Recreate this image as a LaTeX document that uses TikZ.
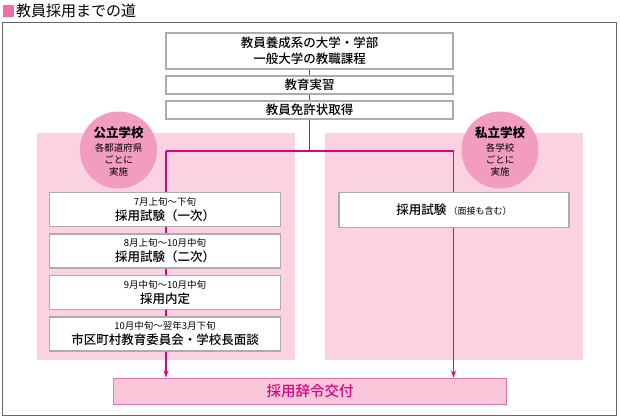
\documentclass[tikz,border=0pt]{standalone}
\usepackage{fontspec}
\setmainfont{Noto Sans CJK JP}
\newfontfamily\jpmed{Noto Sans CJK JP Medium}
\usetikzlibrary{arrows.meta}
\definecolor{mag}{HTML}{E4007F}
\definecolor{bgpink}{HTML}{FBD2E1}
\definecolor{circpink}{HTML}{F29CC0}
\definecolor{finfill}{HTML}{FAC6DA}
\definecolor{finedge}{HTML}{EF72A6}
\definecolor{ttlpink}{HTML}{F06EA5}
\tikzset{
  wbox/.style={draw=gray!65, line width=1.3pt, fill=white, inner sep=0pt, align=center, font=\jpmed\fontsize{12.5}{16}\selectfont},
  region/.style={fill=bgpink, draw=none},
  badge/.style={circle, fill=circpink, minimum size=77pt, inner sep=0pt, align=center},
  flow/.style={draw=mag, line width=1.6pt},
}
\newcommand{\sm}{\rmfamily\fontsize{9.5}{11.5}\selectfont}
\newcommand{\mn}{\jpmed\fontsize{12.5}{16}\selectfont}
\begin{document}
\begin{tikzpicture}[x=1pt,y=-1pt]
\useasboundingbox (0,0) rectangle (620,417);
% title
\fill[ttlpink] (3,5) rectangle (14,17);
\node[anchor=west, inner sep=0pt, font=\fontsize{15}{16}\selectfont] (title) at (16,11) {教員採用までの道};
% frame
\draw[gray!80!black, line width=0.9pt] (2,22) rectangle (616,415);
% regions
\fill[region] (36.5,132.5) rectangle (294.5,360);
\fill[region] (324.5,132.5) rectangle (582.5,360);
% badges
\node[badge] (pub) at (118.5,150) {};
\node[anchor=center, align=center, inner sep=0pt] (pubt) at (118.5,152) {\fontsize{12.5}{14}\selectfont\bfseries 公立学校\\[2pt]\sm 各都道府県\\\sm ごとに\\\sm 実施};
\node[badge] (pri) at (500,150) {};
\node[anchor=center, align=center, inner sep=0pt] (prit) at (500,152) {\fontsize{12.5}{14}\selectfont\bfseries 私立学校\\[2pt]\sm 各学校\\\sm ごとに\\\sm 実施};
% junction coordinates
\coordinate (top) at (309.5,51);
\coordinate (j) at (309.5,151);
\coordinate (jl) at (166,151);
\coordinate (jr) at (453.5,151);
% final box
\node[draw=finedge, fill=finfill, line width=1pt, minimum width=393pt, minimum height=26pt, inner sep=0pt, text=mag, font=\jpmed\fontsize{14.5}{16}\selectfont] (fin) at (310,391) {採用辞令交付};
% connectors (behind the boxes)
\draw[flow] (top) -- (j);
\draw[flow] (jl) -- (jr);
\draw[flow, -{Stealth[length=7pt,width=5pt]}] (jl) -- (jl |- fin.north);
\draw[flow, -{Stealth[length=7pt,width=5pt]}] (jr) -- (jr |- fin.north);
% top boxes
\node[wbox, minimum width=287pt, minimum height=36pt] (b1) at (top) {教員養成系の大学・学部\\一般大学の教職課程};
\node[wbox, minimum width=287pt, minimum height=18pt] (b2) at (309.5,85) {教育実習};
\node[wbox, minimum width=287pt, minimum height=18pt] (b3) at (309.5,110) {教員免許状取得};
% left boxes
\node[wbox, minimum width=231pt, minimum height=34pt] (l1) at (165,209.5) {\sm 7月上旬～下旬\\[-1pt]\mn 採用試験（一次）};
\node[wbox, minimum width=231pt, minimum height=34pt] (l2) at (165,251) {\sm 8月上旬～10月中旬\\[-1pt]\mn 採用試験（二次）};
\node[wbox, minimum width=231pt, minimum height=34pt] (l3) at (165,292.5) {\sm 9月中旬～10月中旬\\[-1pt]\mn 採用内定};
\node[wbox, minimum width=231pt, minimum height=34pt] (l4) at (165,334) {\sm 10月中旬～翌年3月下旬\\[-1pt]\mn 市区町村教育委員会・学校長面談};
% right box
\node[wbox, minimum width=230pt, minimum height=35pt] (r1) at (454,210) {\mn 採用試験\,{\rmfamily\fontsize{9}{11}\selectfont（面接も含む）}};
\end{tikzpicture}
\end{document}
